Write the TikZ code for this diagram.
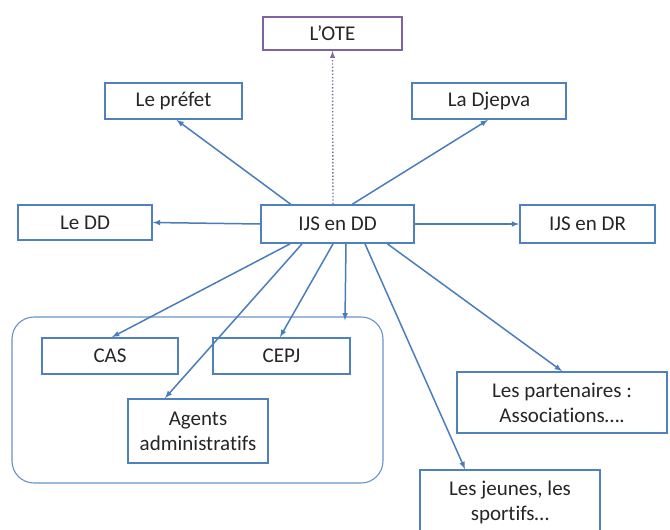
\documentclass[tikz,border=0pt]{standalone}
\usepackage{fontspec}
\setmainfont{Carlito}[Ligatures=NoCommon]
\usepackage{tikz}
\usetikzlibrary{calc,shapes}
\definecolor{boxblue}{HTML}{4F81BD}
\definecolor{lineblue}{HTML}{4A7EBB}
\definecolor{otepurple}{HTML}{8064A2}
\tikzstyle{every picture}=[->,>=latex]
\tikzstyle{cadre}=[rectangle,draw=boxblue,line width=1.8pt,align=center,inner sep=0pt,text=black!85,font=\fontsize{21}{25}\selectfont]

\begin{document}
\begin{tikzpicture}[x=1pt,y=-1pt]
{
\useasboundingbox[fill=white] (0,0) rectangle (670,530);
\node[rectangle,rounded corners=22pt,draw=boxblue!85,line width=1.1pt,minimum width=371pt,minimum height=166pt] (grp) at (197.5,400) {};

\begin{scope}[every node/.style={cadre}]
    \node[draw=otepurple,minimum width=139pt,minimum height=33pt] (ote) at (332.5,33.5) {L’OTE};
    \node[minimum width=137pt,minimum height=36pt] (prefet) at (173.5,101) {Le préfet};
    \node[minimum width=154pt,minimum height=36pt] (djepva) at (489,101) {La Djepva};
    \node[minimum width=134pt,minimum height=35pt] (dd) at (85,222.5) {Le DD};
    \node[minimum width=153pt,minimum height=38pt] (ijs) at (337.5,224) {IJS en DD};
    \node[minimum width=135pt,minimum height=38pt] (dr) at (587.5,224) {IJS en DR};
    \node[minimum width=136pt,minimum height=36pt] (cas) at (110,356) {CAS};
    \node[minimum width=137pt,minimum height=36pt] (cepj) at (281.5,356) {CEPJ};
    \node[minimum width=140pt,minimum height=64pt] (agents) at (198,431) {Agents\\administratifs};
    \node[minimum width=210pt,minimum height=61pt] (partenaires) at (562,402.5) {Les partenaires :\\Associations….};
    \node[minimum width=180pt,minimum height=64pt] (jeunes) at (510,502) {Les jeunes, les\\sportifs…};
\end{scope}

\path[draw, dotted, line width=1.4pt, otepurple!80!gray] ([xshift=-4.5]ijs.north) -- (ote.south);
\path[draw, line width=1.5pt, lineblue] ([xshift=-47]ijs.north) -- ([xshift=3]prefet.south);
\path[draw, line width=1.5pt, lineblue] ([xshift=15]ijs.north) -- ([xshift=-1]djepva.south);
\path[draw, line width=1.5pt, lineblue] (ijs.west) -- (dd.east);
\path[draw, line width=1.5pt, lineblue] (ijs.east) -- (dr.west);
\path[draw, line width=1.5pt, lineblue] ([xshift=-47.5]ijs.south) -- ([xshift=2]cas.north);
\path[draw, line width=1.5pt, lineblue] ([xshift=-35.5]ijs.south) -- ([xshift=-33]agents.north);
\path[draw, line width=1.5pt, lineblue] ([xshift=-4.5]ijs.south) -- ([xshift=-1.5]cepj.north);
\path[draw, line width=1.5pt, lineblue] ([xshift=8.5]ijs.south) -- ([xshift=147.5,yshift=-4]grp.north);
\path[draw, line width=1.5pt, lineblue] ([xshift=27.5]ijs.south) -- ([xshift=-45]jeunes.north);
\path[draw, line width=1.5pt, lineblue] ([xshift=50]ijs.south) -- (partenaires.north);
%\path[draw, line width=1.5pt, lineblue] (ijs) -- (grp);
}
\end{tikzpicture}
\end{document}
